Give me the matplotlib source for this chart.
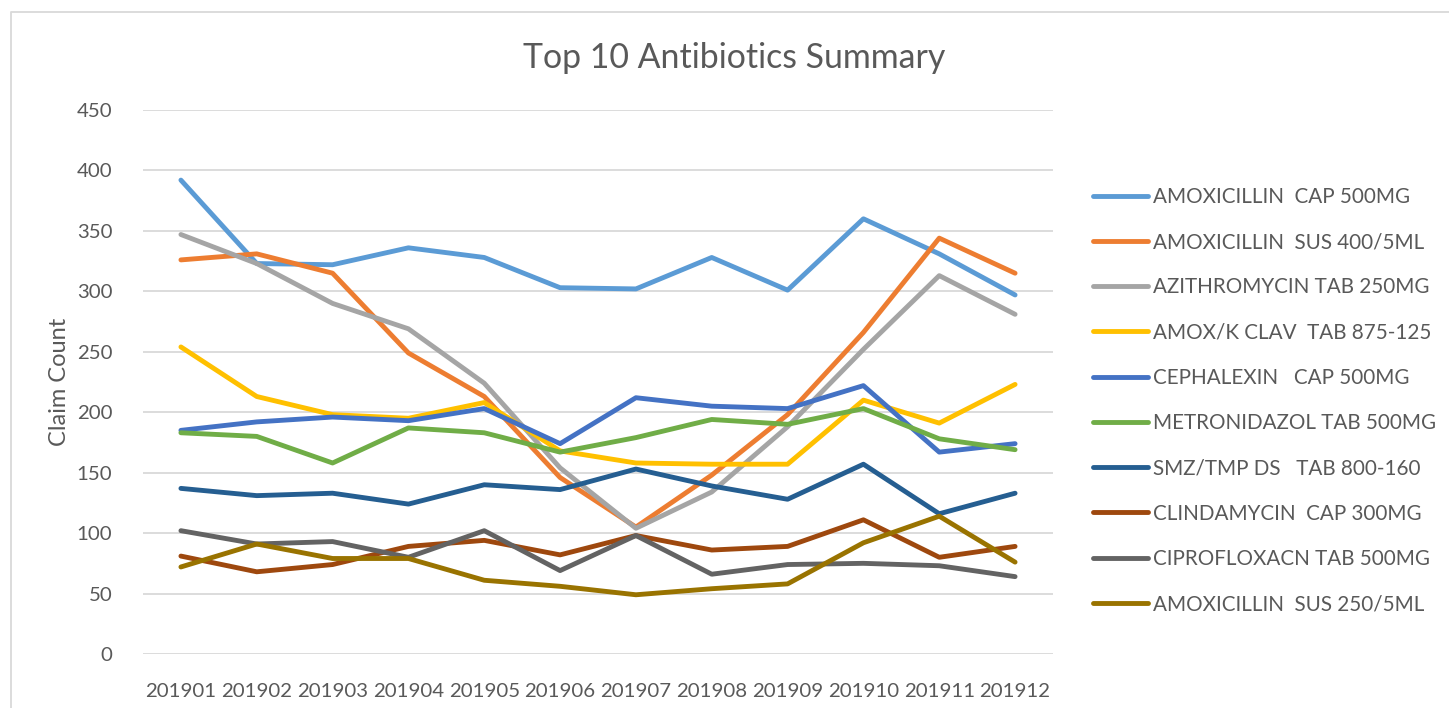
import matplotlib
matplotlib.use("Agg")
import matplotlib.pyplot as plt
from matplotlib.lines import Line2D

plt.rcParams['font.family'] = ['Lato', 'DejaVu Sans']

months = ["201901", "201902", "201903", "201904", "201905", "201906",
          "201907", "201908", "201909", "201910", "201911", "201912"]

amox_cap_500 = [392, 323, 322, 336, 328, 303, 302, 328, 301, 360, 331, 297]
amox_sus_400 = [326, 331, 315, 249, 213, 146, 105, 148, 198, 266, 344, 315]
azithro_250 = [347, 323, 290, 269, 224, 154, 104, 134, 188, 252, 313, 281]
amox_clav = [254, 213, 198, 195, 208, 168, 158, 157, 157, 210, 191, 223]
cephalexin = [185, 192, 196, 193, 203, 174, 212, 205, 203, 222, 167, 174]
metronidazol = [183, 180, 158, 187, 183, 167, 179, 194, 190, 203, 178, 169]
smz_tmp = [137, 131, 133, 124, 140, 136, 153, 139, 128, 157, 116, 133]
clindamycin = [81, 68, 74, 89, 94, 82, 98, 86, 89, 111, 80, 89]
ciproflox = [102, 91, 93, 80, 102, 69, 98, 66, 74, 75, 73, 64]
amox_sus_250 = [72, 91, 79, 79, 61, 56, 49, 54, 58, 92, 114, 76]

series_names = ["AMOXICILLIN  CAP 500MG", "AMOXICILLIN  SUS 400/5ML",
                "AZITHROMYCIN TAB 250MG", "AMOX/K CLAV  TAB 875-125",
                "CEPHALEXIN   CAP 500MG", "METRONIDAZOL TAB 500MG",
                "SMZ/TMP DS   TAB 800-160", "CLINDAMYCIN  CAP 300MG",
                "CIPROFLOXACN TAB 500MG", "AMOXICILLIN  SUS 250/5ML"]
series_values = [amox_cap_500, amox_sus_400, azithro_250, amox_clav, cephalexin,
                 metronidazol, smz_tmp, clindamycin, ciproflox, amox_sus_250]
colors = ["#5B9BD5", "#ED7D31", "#A5A5A5", "#FFC000", "#4472C4",
          "#70AD47", "#255E91", "#9E480E", "#636363", "#997300"]
yticks = [0, 50, 100, 150, 200, 250, 300, 350, 400, 450]

W, H = 1449, 708
fig = plt.figure(figsize=(W / 100, H / 100), dpi=100)
fig.patch.set_facecolor("white")

# outer chart border
fig.add_artist(Line2D([11 / W, 11 / W, 1.0], [0.0, 1 - 12 / H, 1 - 12 / H],
                      transform=fig.transFigure, color="#D9D9D9", lw=1.3))

ax = fig.add_axes([143 / W, 1 - 654 / H, (1053 - 143) / W, (654 - 110) / H])
x = list(range(len(months)))
for name, vals, c in zip(series_names, series_values, colors):
    ax.plot(x, vals, color=c, lw=3.5, label=name, solid_capstyle="round",
            solid_joinstyle="round")

ax.set_xlim(-0.5, len(months) - 0.5)
ax.set_ylim(0, 450)
ax.set_yticks(yticks)
ax.set_yticklabels([str(v) for v in yticks])
ax.set_xticks(x)
ax.set_xticklabels(months)
ax.grid(axis="y", color="#D9D9D9", lw=1.3)
ax.set_axisbelow(True)
for s in ax.spines.values():
    s.set_visible(False)
ax.tick_params(axis="both", length=0, labelsize=14.7, colors="#595959")
ax.tick_params(axis="y", pad=22)
ax.tick_params(axis="x", pad=21)

fig.text(60 / W, 1 - 382 / H, "Claim Count", rotation=90, ha="center", va="center",
         fontsize=17, color="#595959")
fig.text(734 / W, 1 - 68 / H, "Top 10 Antibiotics Summary", ha="center", va="baseline",
         fontsize=24.4, color="#595959")

leg = ax.legend(loc="upper left", bbox_to_anchor=(1093 / W, 1 - 187 / H),
                bbox_transform=fig.transFigure, frameon=False, fontsize=14.9,
                handlelength=2.66, handletextpad=0.24, labelspacing=1.22,
                borderaxespad=0, borderpad=0)
for t in leg.get_texts():
    t.set_color("#595959")

fig.savefig("out.png", dpi=100)
